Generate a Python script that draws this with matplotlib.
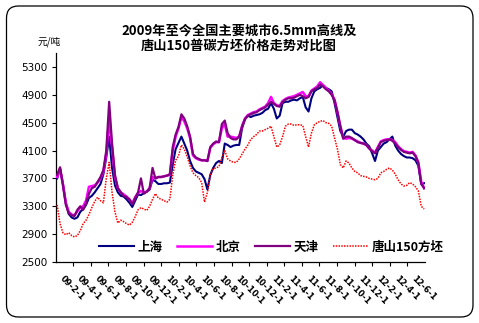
import matplotlib
matplotlib.use("Agg")
import matplotlib.pyplot as plt
import matplotlib.dates as mdates
from matplotlib.patches import FancyBboxPatch
import pandas as pd

plt.rcParams['font.family'] = ['Noto Sans CJK SC', 'DejaVu Sans']

# Observation dates (every 10 days) and prices in 元/吨
dates = pd.date_range('2009-01-05', periods=128, freq='10D')

shanghai = [3700, 3840, 3620, 3350, 3190, 3140, 3120, 3140, 3220, 3260,
            3320, 3420, 3450, 3500, 3560, 3620, 3760, 4000, 4300, 3850,
            3600, 3500, 3450, 3440, 3400, 3350, 3290, 3380, 3470, 3460,
            3490, 3510, 3540, 3680, 3660, 3620, 3620, 3630, 3630, 3640,
            3900, 4120, 4210, 4300, 4200, 4100, 3950, 3850, 3800, 3780,
            3760, 3690, 3540, 3750, 3850, 3920, 3950, 3920, 4200, 4180,
            4150, 4170, 4180, 4180, 4420, 4550, 4600, 4580, 4600, 4610,
            4620, 4640, 4680, 4700, 4780, 4700, 4560, 4600, 4780, 4800,
            4800, 4820, 4830, 4820, 4850, 4870, 4720, 4660, 4850, 4950,
            4980, 5000, 5040, 5000, 4980, 4950, 4780, 4580, 4380, 4300,
            4380, 4400, 4400, 4350, 4330, 4300, 4260, 4200, 4160, 4060,
            3950, 4100, 4150, 4200, 4220, 4260, 4300, 4170, 4100, 4050,
            4020, 4000, 4000, 3990, 3960, 3880, 3620, 3630]

beijing = [3720, 3840, 3620, 3350, 3220, 3180, 3170, 3230, 3280, 3300,
           3380, 3580, 3590, 3600, 3640, 3700, 3800, 4050, 4550, 4150,
           3720, 3560, 3500, 3470, 3440, 3400, 3340, 3430, 3490, 3520,
           3500, 3510, 3560, 3720, 3700, 3720, 3720, 3730, 3740, 3750,
           4100, 4300, 4420, 4580, 4520, 4420, 4280, 4030, 3990, 3970,
           3960, 3960, 3950, 4140, 4190, 4220, 4220, 4420, 4480, 4300,
           4300, 4290, 4280, 4300, 4450, 4560, 4610, 4630, 4650, 4660,
           4690, 4710, 4730, 4780, 4870, 4780, 4750, 4740, 4810, 4840,
           4860, 4870, 4880, 4900, 4920, 4940, 4880, 4880, 4960, 4990,
           5020, 5080, 5040, 5000, 4960, 4910, 4830, 4650, 4450, 4280,
           4270, 4280, 4270, 4250, 4230, 4210, 4200, 4180, 4130, 4100,
           4070, 4150, 4230, 4250, 4260, 4260, 4250, 4220, 4160, 4120,
           4090, 4080, 4070, 4080, 4030, 3930, 3650, 3560]

tianjin = [3750, 3860, 3600, 3320, 3200, 3170, 3160, 3250, 3300, 3250,
           3340, 3480, 3560, 3580, 3650, 3720, 3820, 4100, 4800, 4200,
           3750, 3560, 3500, 3450, 3430, 3400, 3330, 3420, 3500, 3700,
           3480, 3510, 3560, 3850, 3700, 3720, 3720, 3730, 3740, 3760,
           4150, 4330, 4440, 4620, 4560, 4450, 4300, 4050, 4000, 3980,
           3960, 3960, 3950, 4150, 4200, 4230, 4220, 4480, 4530, 4350,
           4280, 4260, 4260, 4300, 4450, 4550, 4600, 4620, 4640, 4650,
           4680, 4700, 4720, 4760, 4800, 4770, 4740, 4730, 4800, 4830,
           4850, 4850, 4860, 4880, 4900, 4880, 4850, 4870, 4950, 4980,
           5000, 5050, 5020, 4980, 4950, 4900, 4820, 4650, 4450, 4270,
           4300, 4300, 4280, 4250, 4220, 4210, 4200, 4180, 4130, 4090,
           4060, 4140, 4220, 4240, 4250, 4260, 4240, 4200, 4150, 4110,
           4080, 4070, 4060, 4070, 4020, 3920, 3620, 3560]

tangshan = [3320, 3050, 2920, 2890, 2920, 2880, 2860, 2880, 2950, 3050,
            3100, 3180, 3280, 3370, 3430, 3380, 3350, 3700, 3930, 3500,
            3220, 3060, 3100, 3080, 3050, 3030, 3070, 3150, 3250, 3280,
            3260, 3240, 3300, 3400, 3480, 3420, 3400, 3380, 3360, 3400,
            3750, 3960, 4020, 4180, 4120, 4010, 3880, 3780, 3740, 3710,
            3640, 3360, 3500, 3750, 3840, 3850, 3870, 4000, 4100, 3980,
            3950, 3930, 3930, 3980, 4050, 4120, 4180, 4260, 4300, 4330,
            4380, 4380, 4400, 4420, 4450, 4300, 4150, 4180, 4300, 4450,
            4480, 4480, 4460, 4470, 4470, 4460, 4300, 4150, 4350, 4470,
            4500, 4520, 4530, 4500, 4490, 4450, 4280, 4120, 3900, 3850,
            3950, 3920, 3850, 3800, 3780, 3740, 3730, 3720, 3700, 3690,
            3680, 3700, 3780, 3800, 3830, 3850, 3820, 3760, 3680, 3620,
            3590, 3600, 3640, 3620, 3580, 3520, 3300, 3260]

series_names = ['上海', '北京', '天津', '唐山150方坯']

# Axis labelling: date labels sit midway between two-month tick marks
label_dates = pd.date_range('2009-02-01', '2012-06-01', freq='2MS')
tick_labels = ['09-2-1', '09-4-1', '09-6-1', '09-8-1', '09-10-1', '09-12-1',
               '10-2-1', '10-4-1', '10-6-1', '10-8-1', '10-10-1', '10-12-1',
               '11-2-1', '11-4-1', '11-6-1', '11-8-1', '11-10-1', '11-12-1',
               '12-2-1', '12-4-1', '12-6-1']
boundary_dates = pd.date_range('2009-03-01', '2012-05-01', freq='2MS')
y_ticks = [2500, 2900, 3300, 3700, 4100, 4500, 4900, 5300]

W, H = 479, 323
fig = plt.figure(figsize=(W / 100, H / 100), dpi=100)

# rounded outer frame
frame = FancyBboxPatch((0.065, 0.06), 4.665, 3.11,
                       boxstyle="round,pad=0,rounding_size=0.12",
                       transform=fig.dpi_scale_trans, facecolor='none',
                       edgecolor='black', linewidth=0.9, zorder=0)
fig.patches.append(frame)

ax = fig.add_axes([56 / W, 61 / H, 369 / W, 209 / H])
ax.set_facecolor('none')
ax.set_zorder(2)

x = mdates.date2num(dates)
ax.plot(x, shanghai, color='#000080', lw=1.5, label=series_names[0], zorder=3)
ax.plot(x, beijing, color='#ff00ff', lw=1.8, label=series_names[1], zorder=3)
ax.plot(x, tianjin, color='#800080', lw=1.6, label=series_names[2], zorder=4)
ax.plot(x, tangshan, color='#ff0000', lw=1.1, ls=(0, (1, 0.8)),
        label=series_names[3], zorder=3)

ax.set_xlim(mdates.date2num(pd.Timestamp('2009-01-01')),
            mdates.date2num(pd.Timestamp('2012-07-01')))
ax.set_ylim(2500, 5500)

ax.set_yticks(y_ticks)
ax.set_yticklabels([str(v) for v in y_ticks], family='DejaVu Sans')
ax.tick_params(axis='y', direction='out', length=3, width=0.8,
               labelsize=7.5, pad=3)

ax.set_xticks(mdates.date2num(boundary_dates))
ax.set_xticklabels([''] * len(boundary_dates))
ax.tick_params(axis='x', which='major', direction='out', length=3, width=0.8)
ax.set_xticks(mdates.date2num(label_dates), minor=True)
ax.set_xticklabels(tick_labels, minor=True, rotation=-45, ha='left',
                   va='top', rotation_mode='anchor', fontsize=6,
                   fontweight='bold', family='DejaVu Sans')
ax.tick_params(axis='x', which='minor', length=0, pad=8.5)

for side in ('top', 'right'):
    ax.spines[side].set_visible(False)
for side in ('left', 'bottom'):
    ax.spines[side].set_linewidth(0.9)
    ax.spines[side].set_color('black')

fig.text(239 / W, 1 - 38 / H,
         '2009年至今全国主要城市6.5mm高线及\n唐山150普碳方坯价格走势对比图',
         ha='center', va='center', fontsize=9.5, fontweight='bold',
         linespacing=1.15)
fig.text(49 / W, 1 - 42 / H, '元/吨', ha='center', va='center', fontsize=7)

ax.legend(ncol=4, loc='center left', bbox_to_anchor=(99 / W, 1 - 247 / H),
          bbox_transform=fig.transFigure, frameon=False,
          prop={'weight': 'bold', 'size': 9}, handlelength=2.8,
          handletextpad=0.25, columnspacing=1.2, borderpad=0,
          borderaxespad=0)

fig.savefig('out.png', dpi=100)
